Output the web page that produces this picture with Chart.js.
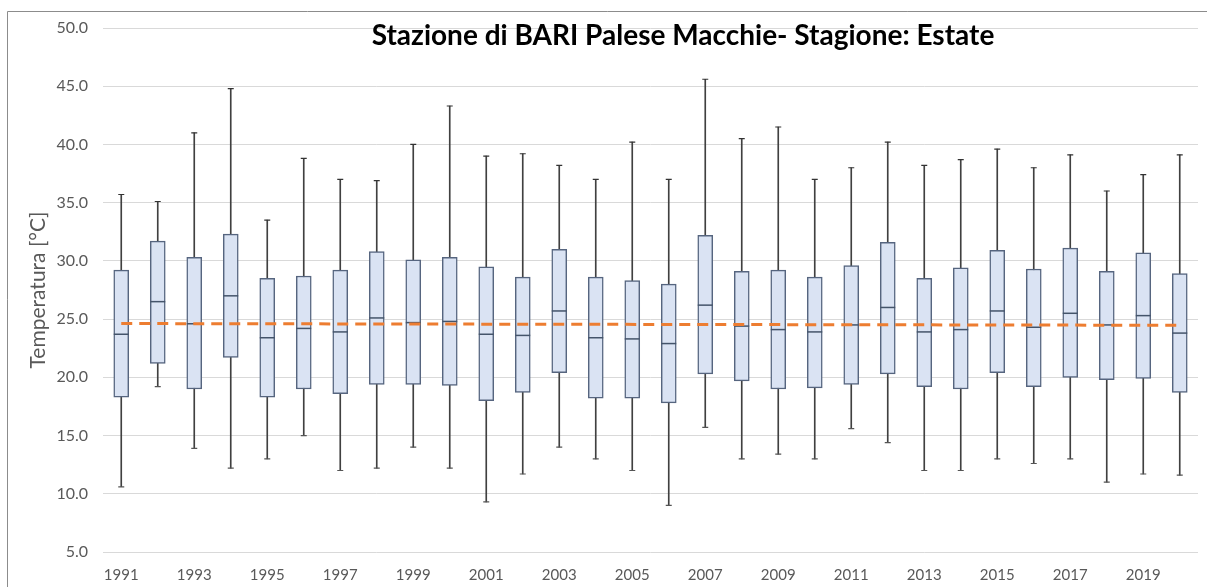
<!DOCTYPE html>
<html>
<head>
<meta charset="utf-8">
<script src="https://cdn.jsdelivr.net/npm/chart.js@4.4.1/dist/chart.umd.min.js"></script>
<style>
  html, body { margin: 0; padding: 0; background: #fff; }
</style>
</head>
<body>
<canvas id="grafico" width="1207" height="587"></canvas>
<script>
const anni = ["1991", "1992", "1993", "1994", "1995", "1996", "1997", "1998", "1999", "2000",
              "2001", "2002", "2003", "2004", "2005", "2006", "2007", "2008", "2009", "2010",
              "2011", "2012", "2013", "2014", "2015", "2016", "2017", "2018", "2019", "2020"];

const minimi  = [10.6, 19.2, 13.9, 12.2, 13.0, 15.0, 12.0, 12.2, 14.0, 12.2,
                 9.3, 11.7, 14.0, 13.0, 12.0, 9.0, 15.7, 13.0, 13.4, 13.0,
                 15.6, 14.4, 12.0, 12.0, 13.0, 12.6, 13.0, 11.0, 11.7, 11.6];
const q1      = [18.3, 21.2, 19.0, 21.7, 18.3, 19.0, 18.6, 19.4, 19.4, 19.3,
                 18.0, 18.7, 20.4, 18.2, 18.2, 17.8, 20.3, 19.7, 19.0, 19.1,
                 19.4, 20.3, 19.2, 19.0, 20.4, 19.2, 20.0, 19.8, 19.9, 18.7];
const mediane = [23.7, 26.5, 24.6, 27.0, 23.4, 24.2, 23.9, 25.1, 24.7, 24.8,
                 23.7, 23.6, 25.7, 23.4, 23.3, 22.9, 26.2, 24.4, 24.1, 23.9,
                 24.5, 26.0, 23.9, 24.1, 25.7, 24.3, 25.5, 24.5, 25.3, 23.8];
const q3      = [29.2, 31.7, 30.3, 32.3, 28.5, 28.7, 29.2, 30.8, 30.1, 30.3,
                 29.5, 28.6, 31.0, 28.6, 28.3, 28.0, 32.2, 29.1, 29.2, 28.6,
                 29.6, 31.6, 28.5, 29.4, 30.9, 29.3, 31.1, 29.1, 30.7, 28.9];
const massimi = [35.7, 35.1, 41.0, 44.8, 33.5, 38.8, 37.0, 36.9, 40.0, 43.3,
                 39.0, 39.2, 38.2, 37.0, 40.2, 37.0, 45.6, 40.5, 41.5, 37.0,
                 38.0, 40.2, 38.2, 38.7, 39.6, 38.0, 39.1, 36.0, 37.4, 39.1];

// linea di tendenza: valore al primo e all'ultimo anno
const tendenza = [24.62, 24.47];

const titolo = "Stazione di BARI Palese Macchie- Stagione: Estate";
const grigio = "#595959";

const cornice = {
    id: "cornice",
    beforeDraw(chart) {
        const ctx = chart.ctx;
        ctx.save();
        ctx.fillStyle = "#fff";
        ctx.fillRect(0, 0, chart.width, chart.height);
        ctx.strokeStyle = "#8c8c8c";
        ctx.lineWidth = 1;
        ctx.beginPath();
        ctx.moveTo(7.5, chart.height);
        ctx.lineTo(7.5, 11.5);
        ctx.lineTo(chart.width, 11.5);
        ctx.stroke();
        ctx.restore();
    },
    afterDraw(chart) {
        const ctx = chart.ctx;
        ctx.save();
        ctx.fillStyle = "#000";
        ctx.font = "bold 28px Lato";
        ctx.textAlign = "center";
        ctx.textBaseline = "alphabetic";
        ctx.fillText(titolo, 683, 45, 628);
        ctx.restore();
    }
};

const ctx = document.getElementById("grafico").getContext("2d");

new Chart(ctx, {
    type: "bar",
    data: {
        labels: anni,
        datasets: [
            {
                type: "bar",
                label: "baffi",
                data: anni.map((a, i) => [minimi[i], massimi[i]]),
                backgroundColor: "#404040",
                barThickness: 1,
                grouped: false,
                order: 5
            },
            {
                type: "bar",
                label: "scatola",
                data: anni.map((a, i) => [q1[i], q3[i]]),
                backgroundColor: "#dae3f3",
                borderColor: "#56657f",
                borderWidth: 1.5,
                borderSkipped: false,
                barThickness: 15,
                grouped: false,
                order: 4
            },
            {
                type: "line",
                label: "mediana",
                data: mediane,
                showLine: false,
                pointStyle: "line",
                pointRadius: 7.5,
                pointBorderWidth: 1.5,
                pointBorderColor: "#44546a",
                order: 3
            },
            {
                type: "line",
                label: "max",
                data: massimi,
                showLine: false,
                pointStyle: "line",
                pointRadius: 3,
                pointBorderWidth: 1.2,
                pointBorderColor: "#333",
                order: 2
            },
            {
                type: "line",
                label: "min",
                data: minimi,
                showLine: false,
                pointStyle: "line",
                pointRadius: 3,
                pointBorderWidth: 1.2,
                pointBorderColor: "#555",
                order: 2
            },
            {
                type: "line",
                label: "tendenza",
                data: [{ x: anni[0], y: tendenza[0] }, { x: anni[anni.length - 1], y: tendenza[1] }],
                borderColor: "#ed7d31",
                borderWidth: 3,
                borderDash: [11, 7],
                pointRadius: 0,
                fill: false,
                order: 0
            }
        ]
    },
    options: {
        responsive: false,
        animation: false,
        events: [],
        layout: { padding: { top: 28, right: 1.5, left: 0, bottom: 0 } },
        plugins: {
            legend: { display: false },
            tooltip: { enabled: false }
        },
        scales: {
            x: {
                offset: true,
                grid: { display: false, drawTicks: false },
                border: { display: false },
                ticks: {
                    autoSkip: false,
                    maxRotation: 0,
                    color: grigio,
                    font: { family: "Lato", size: 15 },
                    padding: 14,
                    callback: (v, i) => (i % 2 === 0 ? anni[i] : "")
                },
                afterFit: s => { s.height = 35; }
            },
            y: {
                min: 5,
                max: 50,
                grid: { color: "#d9d9d9", drawTicks: false },
                border: { display: false },
                ticks: {
                    stepSize: 5,
                    color: grigio,
                    font: { family: "Lato", size: 16 },
                    padding: 15,
                    callback: v => v.toFixed(1)
                },
                title: {
                    display: true,
                    text: "Temperatura [°C]",
                    color: grigio,
                    font: { family: "Lato", size: 21 },
                    padding: { top: 26, bottom: 0 }
                },
                afterFit: s => { s.width = 103; }
            }
        }
    },
    plugins: [cornice]
});
</script>
</body>
</html>
